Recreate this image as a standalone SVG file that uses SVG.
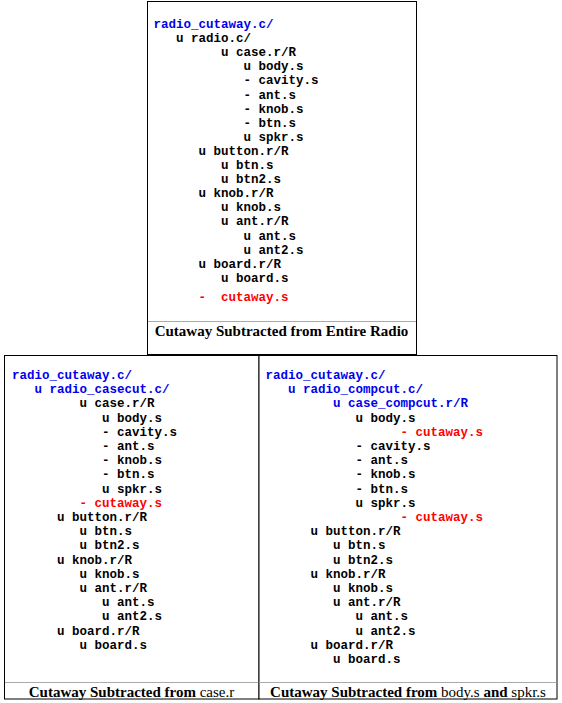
<svg xmlns="http://www.w3.org/2000/svg" width="562" height="703" viewBox="0 0 562 703">
<style>
.box{fill:#fff;stroke:#000;stroke-width:1}
.div{stroke:#aaa;stroke-width:1}
.m{font-family:"Liberation Mono","Courier New",monospace;font-weight:bold;font-size:12.5px;fill:#000;white-space:pre}
.b{fill:#0000ee}
.r{fill:#ff0000}
.cap{font-family:"Liberation Serif","Times New Roman",serif;font-size:15px;font-weight:bold;fill:#000;text-anchor:middle}
.n{font-weight:normal}
</style>
<rect width="562" height="703" fill="#fff"/>
<g id="connectors"/>
<g id="top-box" xml:space="preserve">
<rect class="box" x="147.5" y="1.5" width="269" height="353"/>
<line class="div" x1="148" y1="321.5" x2="416" y2="321.5"/>
<text class="m b" x="153.5" y="28">radio_cutaway.c/</text>
<text class="m" x="153.5" y="42.1">   u radio.c/</text>
<text class="m" x="153.5" y="56.2">         u case.r/R</text>
<text class="m" x="153.5" y="70.3">            u body.s</text>
<text class="m" x="153.5" y="84.4">            - cavity.s</text>
<text class="m" x="153.5" y="98.5">            - ant.s</text>
<text class="m" x="153.5" y="112.6">            - knob.s</text>
<text class="m" x="153.5" y="126.7">            - btn.s</text>
<text class="m" x="153.5" y="140.8">            u spkr.s</text>
<text class="m" x="153.5" y="154.9">      u button.r/R</text>
<text class="m" x="153.5" y="169">         u btn.s</text>
<text class="m" x="153.5" y="183.1">         u btn2.s</text>
<text class="m" x="153.5" y="197.2">      u knob.r/R</text>
<text class="m" x="153.5" y="211.3">         u knob.s</text>
<text class="m" x="153.5" y="225.4">         u ant.r/R</text>
<text class="m" x="153.5" y="239.5">            u ant.s</text>
<text class="m" x="153.5" y="253.6">            u ant2.s</text>
<text class="m" x="153.5" y="267.7">      u board.r/R</text>
<text class="m" x="153.5" y="281.8">         u board.s</text>
<text class="m r" x="153.5" y="301">      -  cutaway.s</text>
<text class="cap" x="281.5" y="336">Cutaway Subtracted from Entire Radio</text>
</g>
<g id="left-box" xml:space="preserve">
<rect class="box" x="4.5" y="355.5" width="254.5" height="343.5"/>
<line class="div" x1="5" y1="682.5" x2="259" y2="682.5"/>
<text class="m b" x="12" y="379">radio_cutaway.c/</text>
<text class="m b" x="12" y="393.2">   u radio_casecut.c/</text>
<text class="m" x="12" y="407.4">         u case.r/R</text>
<text class="m" x="12" y="421.6">            u body.s</text>
<text class="m" x="12" y="435.8">            - cavity.s</text>
<text class="m" x="12" y="450">            - ant.s</text>
<text class="m" x="12" y="464.2">            - knob.s</text>
<text class="m" x="12" y="478.4">            - btn.s</text>
<text class="m" x="12" y="492.6">            u spkr.s</text>
<text class="m r" x="12" y="506.8">         - cutaway.s</text>
<text class="m" x="12" y="521">      u button.r/R</text>
<text class="m" x="12" y="535.2">         u btn.s</text>
<text class="m" x="12" y="549.4">         u btn2.s</text>
<text class="m" x="12" y="563.6">      u knob.r/R</text>
<text class="m" x="12" y="577.8">         u knob.s</text>
<text class="m" x="12" y="592">         u ant.r/R</text>
<text class="m" x="12" y="606.2">            u ant.s</text>
<text class="m" x="12" y="620.4">            u ant2.s</text>
<text class="m" x="12" y="634.6">      u board.r/R</text>
<text class="m" x="12" y="648.8">         u board.s</text>
<text class="cap" x="131.5" y="696.5">Cutaway Subtracted from <tspan class="n">case.r</tspan></text>
</g>
<g id="right-box" xml:space="preserve">
<rect class="box" x="259" y="355.5" width="298" height="343.5"/>
<line class="div" x1="259.5" y1="682.5" x2="556.5" y2="682.5"/>
<text class="m b" x="265.5" y="379">radio_cutaway.c/</text>
<text class="m b" x="265.5" y="393.2">   u radio_compcut.c/</text>
<text class="m b" x="265.5" y="407.4">         u case_compcut.r/R</text>
<text class="m" x="265.5" y="421.6">            u body.s</text>
<text class="m r" x="265.5" y="435.8">                  - cutaway.s</text>
<text class="m" x="265.5" y="450">            - cavity.s</text>
<text class="m" x="265.5" y="464.2">            - ant.s</text>
<text class="m" x="265.5" y="478.4">            - knob.s</text>
<text class="m" x="265.5" y="492.6">            - btn.s</text>
<text class="m" x="265.5" y="506.8">            u spkr.s</text>
<text class="m r" x="265.5" y="521">                  - cutaway.s</text>
<text class="m" x="265.5" y="535.2">      u button.r/R</text>
<text class="m" x="265.5" y="549.4">         u btn.s</text>
<text class="m" x="265.5" y="563.6">         u btn2.s</text>
<text class="m" x="265.5" y="577.8">      u knob.r/R</text>
<text class="m" x="265.5" y="592">         u knob.s</text>
<text class="m" x="265.5" y="606.2">         u ant.r/R</text>
<text class="m" x="265.5" y="620.4">            u ant.s</text>
<text class="m" x="265.5" y="634.6">            u ant2.s</text>
<text class="m" x="265.5" y="648.8">      u board.r/R</text>
<text class="m" x="265.5" y="663">         u board.s</text>
<text class="cap" x="408" y="696.5">Cutaway Subtracted from <tspan class="n">body.s</tspan> and <tspan class="n">spkr.s</tspan></text>
</g>
</svg>
